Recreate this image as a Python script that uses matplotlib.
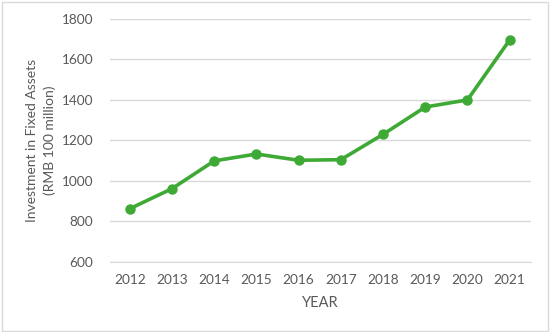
import matplotlib
matplotlib.use("Agg")
import matplotlib.pyplot as plt
from matplotlib.patches import Rectangle

years = ["2012", "2013", "2014", "2015", "2016", "2017", "2018", "2019", "2020", "2021"]
investment = [863, 962, 1099, 1133, 1102, 1105, 1230, 1365, 1400, 1696]
y_ticks = [600, 800, 1000, 1200, 1400, 1600, 1800]

plt.rcParams["font.family"] = ["Lato", "DejaVu Sans"]
text_color = "#595959"
green = "#3EAA35"

fig = plt.figure(figsize=(5.5, 3.32), dpi=100)
ax = fig.add_axes([0.2, 0.211, 0.765, 0.732])

x = range(len(years))
ax.plot(x, investment, color=green, lw=2.6, marker="o", markersize=6.5,
        solid_joinstyle="round", zorder=3)

ax.set_xlim(-0.47, len(years) - 0.5)
ax.set_ylim(600, 1800)
ax.set_yticks(y_ticks)
ax.set_xticks(list(x))
ax.set_xticklabels(years)
ax.grid(axis="y", color="#D9D9D9", lw=1)
ax.set_axisbelow(True)

for side in ["top", "right", "left"]:
    ax.spines[side].set_visible(False)
ax.spines["bottom"].set_color("#D9D9D9")
ax.tick_params(length=0, labelsize=9.8, colors=text_color, pad=9)
ax.tick_params(axis="y", pad=12)

ax.set_xlabel("YEAR", fontsize=10.5, color=text_color, labelpad=7)
ax.set_ylabel("Investment in Fixed Assets\n(RMB 100 million)", fontsize=10,
              color=text_color, labelpad=4, linespacing=1.5)

fig.patches.append(Rectangle((0.003, 0.004), 0.994, 0.99, transform=fig.transFigure,
                             fill=False, edgecolor="#D9D9D9", lw=1))

fig.savefig("out.png", dpi=100)
